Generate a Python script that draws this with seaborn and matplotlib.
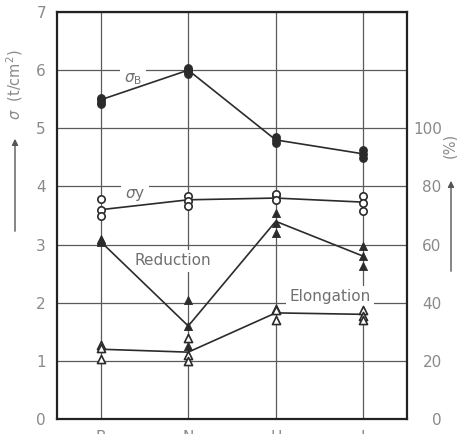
import matplotlib
matplotlib.use("Agg")
import matplotlib.pyplot as plt
import seaborn as sns
import pandas as pd

# Specimen groups along the horizontal axis
categories = ["B", "N", "H", "I"]

# Tensile strength sigma_B (t/cm^2): individual specimens and the connecting trend
sigma_b_points = {"B": [5.52, 5.50, 5.45, 5.41],
                  "N": [6.03, 6.01, 5.97, 5.93],
                  "H": [4.85, 4.80, 4.75],
                  "I": [4.63, 4.56, 4.49]}
sigma_b_line = [5.49, 6.00, 4.80, 4.56]

# Yield stress sigma_y (t/cm^2)
sigma_y_points = {"B": [3.78, 3.60, 3.49],
                  "N": [3.83, 3.75, 3.67],
                  "H": [3.86, 3.87, 3.77],
                  "I": [3.84, 3.72, 3.58]}
sigma_y_line = [3.60, 3.77, 3.80, 3.73]

# Reduction of area (%)
reduction_points = {"B": [62.0, 61.5, 61.0],
                    "N": [41.0, 32.0, 25.0],
                    "H": [71.0, 67.5, 64.0],
                    "I": [59.5, 56.0, 52.5]}
reduction_line = [61.0, 32.0, 68.0, 56.0]

# Elongation (%)
elongation_points = {"B": [25.5, 24.5, 20.5],
                     "N": [28.0, 22.0, 20.0],
                     "H": [38.0, 37.5, 34.0],
                     "I": [37.5, 35.5, 34.0]}
elongation_line = [24.0, 23.0, 36.5, 36.0]

left_ticks = [0, 1, 2, 3, 4, 5, 6, 7]
right_ticks = [0, 20, 40, 60, 80, 100]


def points_frame(points):
    rows = [(categories.index(c), v) for c in categories for v in points[c]]
    return pd.DataFrame(rows, columns=["pos", "value"])


def line_frame(values):
    return pd.DataFrame({"pos": range(len(categories)), "value": values})


sns.set_theme(style="white")
plt.rcParams["font.family"] = ["DejaVu Sans"]
plt.rcParams["mathtext.fontset"] = "dejavusans"

INK = "#2b2b2b"
GREY_TXT = "#8a8a8a"
GRID = "#5a5a5a"

W, H = 457, 434
fig = plt.figure(figsize=(W / 100, H / 100), dpi=100)
ax = fig.add_axes([57 / W, 1 - 419 / H, 350 / W, 407 / H])
ax.set_xlim(-0.5, 3.5)
ax.set_ylim(0, 7)
ax.set_xticks(range(len(categories)), labels=categories)
ax.set_yticks(left_ticks)
ax.grid(True, color=GRID, lw=0.9)
ax.set_axisbelow(True)
ax.tick_params(length=0, labelsize=11, labelcolor=GREY_TXT)
ax.tick_params(axis="y", pad=8)
ax.tick_params(axis="x", pad=8)
for s in ax.spines.values():
    s.set_visible(True)
    s.set_color("#222222")
    s.set_linewidth(1.6)

ax2 = ax.twinx()
ax2.set_ylim(0, 140)
ax2.set_yticks(right_ticks, labels=[str(t) for t in right_ticks], ha="right")
ax2.tick_params(length=0, labelsize=11, labelcolor=GREY_TXT, pad=25)
for s in ax2.spines.values():
    s.set_visible(False)

line_kw = dict(color=INK, lw=1.2, zorder=3, legend=False)

# Stress series on the left axis
sns.lineplot(data=line_frame(sigma_b_line), x="pos", y="value", ax=ax, **line_kw)
sns.scatterplot(data=points_frame(sigma_b_points), x="pos", y="value", ax=ax,
                marker="o", s=30, color=INK, edgecolor=INK, linewidth=0.8, zorder=4)
sns.lineplot(data=line_frame(sigma_y_line), x="pos", y="value", ax=ax, **line_kw)
sns.scatterplot(data=points_frame(sigma_y_points), x="pos", y="value", ax=ax,
                marker="o", s=28, facecolor="white", edgecolor=INK, linewidth=1.2, zorder=4)

# Ductility series on the right axis
sns.lineplot(data=line_frame(reduction_line), x="pos", y="value", ax=ax2, **line_kw)
sns.scatterplot(data=points_frame(reduction_points), x="pos", y="value", ax=ax2,
                marker="^", s=34, color=INK, edgecolor=INK, linewidth=0.6, zorder=4)
sns.lineplot(data=line_frame(elongation_line), x="pos", y="value", ax=ax2, **line_kw)
sns.scatterplot(data=points_frame(elongation_points), x="pos", y="value", ax=ax2,
                marker="^", s=34, facecolor="white", edgecolor=INK, linewidth=1.2, zorder=4)

for a in (ax, ax2):
    a.set_xlabel("")
    a.set_ylabel("")

box = dict(boxstyle="square,pad=0.25", fc="white", ec="none")
ax.text(0.37, 5.84, r"$\sigma_{\rm B}$", color="#707070", fontsize=11,
        ha="center", va="center", zorder=1.5, bbox=box)
ax.text(0.39, 3.86, r"$\sigma$y", color="#707070", fontsize=11,
        ha="center", va="center", zorder=1.5, bbox=box)
ax.text(0.82, 2.72, "Reduction", color="#707070", fontsize=11,
        ha="center", va="center", zorder=1.5, bbox=box)
ax.text(2.62, 2.10, "Elongation", color="#707070", fontsize=11,
        ha="center", va="center", zorder=1.5, bbox=box)

# Axis titles with upward arrows
fig.text(15 / W, 1 - 85 / H, r"$\sigma$  (t/cm$^2$)", rotation=90, color=GREY_TXT,
         fontsize=10.5, ha="center", va="center")
fig.text(450 / W, 1 - 145 / H, "(%)", rotation=90, color=GREY_TXT,
         fontsize=10.5, ha="center", va="center")
arrow = dict(arrowstyle="-|>", color="#555555", lw=1.0, mutation_scale=9)
ax.annotate("", xy=(15, H - 136), xytext=(15, H - 234), xycoords="figure pixels",
            textcoords="figure pixels", arrowprops=arrow, annotation_clip=False)
ax.annotate("", xy=(451, H - 178), xytext=(451, H - 274), xycoords="figure pixels",
            textcoords="figure pixels", arrowprops=arrow, annotation_clip=False)

fig.savefig("out.png", dpi=100)
